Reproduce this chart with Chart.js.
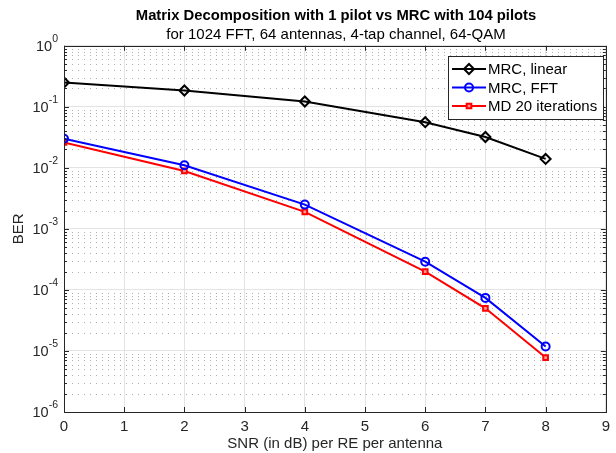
<!DOCTYPE html>
<html>
<head>
<meta charset="utf-8">
<script src="https://cdn.jsdelivr.net/npm/chart.js@4.4.1/dist/chart.umd.min.js"></script>
<style>
  html, body { margin: 0; padding: 0; background: #fff; }
</style>
</head>
<body>
<canvas id="berChart" width="616" height="453"></canvas>
<script>
// Data
const snrDb = [0, 2, 4, 6, 7, 8];
const berMrcLinear = [0.25, 0.185, 0.122, 0.056, 0.032, 0.014];
const berMrcFft = [0.030, 0.011, 0.0025, 0.00029, 0.000074, 0.0000118];
const berMd20 = [0.026, 0.0089, 0.0019, 0.0002, 0.00005, 0.0000078];
const seriesLabels = ['MRC, linear', 'MRC, FFT', 'MD 20 iterations'];
const yDecades = [-6, -5, -4, -3, -2, -1, 0];

const FONT = '"Liberation Sans", Arial, Helvetica, sans-serif';
const AXIS_COLOR = '#262626';

function toPoints(ys) {
    return snrDb.map((x, i) => ({ x: x, y: ys[i] }));
}

// log ticks: decades (major) + 2..9 (minor)
function buildLogTicks(scale) {
    const ticks = [];
    yDecades.forEach((e, i) => {
        ticks.push({ value: Math.pow(10, e), major: true, exp: e });
        if (i < yDecades.length - 1) {
            for (let m = 2; m <= 9; m++) {
                ticks.push({ value: parseFloat((m * Math.pow(10, e)).toPrecision(3)), major: false });
            }
        }
    });
    scale.ticks = ticks;
}

// dotted minor grid, inward tick marks, the axes box and 10^n labels
const matlabAxes = {
    id: 'matlabAxes',
    beforeDatasetsDraw(chart) {
        const { ctx, chartArea: a, scales } = chart;
        ctx.save();
        ctx.strokeStyle = '#b0b0b0';
        ctx.lineWidth = 1;
        ctx.setLineDash([1, 5]);
        scales.y.ticks.forEach(t => {
            if (t.major) return;
            const py = Math.round(scales.y.getPixelForValue(t.value)) + 0.5;
            ctx.beginPath();
            ctx.moveTo(a.left + 2, py);
            ctx.lineTo(a.right, py);
            ctx.stroke();
        });
        ctx.restore();
    },
    afterDatasetsDraw(chart) {
        const { ctx, chartArea: a, scales } = chart;
        ctx.save();
        ctx.strokeStyle = AXIS_COLOR;
        ctx.lineWidth = 1;
        ctx.beginPath();
        scales.x.ticks.forEach(t => {
            const px = Math.round(scales.x.getPixelForValue(t.value)) + 0.5;
            ctx.moveTo(px, a.bottom); ctx.lineTo(px, a.bottom - 5);
            ctx.moveTo(px, a.top); ctx.lineTo(px, a.top + 5);
        });
        scales.y.ticks.forEach(t => {
            const py = Math.round(scales.y.getPixelForValue(t.value)) + 0.5;
            const len = t.major ? 5 : 3;
            ctx.moveTo(a.left, py); ctx.lineTo(a.left + len, py);
            ctx.moveTo(a.right, py); ctx.lineTo(a.right - len, py);
        });
        ctx.stroke();
        ctx.strokeRect(Math.round(a.left) + 0.5, Math.round(a.top) + 0.5,
            Math.round(a.right - a.left), Math.round(a.bottom - a.top));

        // y tick labels with raised exponent
        ctx.fillStyle = AXIS_COLOR;
        ctx.textAlign = 'right';
        ctx.textBaseline = 'alphabetic';
        const xr = a.left - 6;
        scales.y.ticks.forEach(t => {
            if (!t.major) return;
            const py = scales.y.getPixelForValue(t.value);
            const ex = String(t.exp);
            ctx.font = '10.5px ' + FONT;
            const ew = ctx.measureText(ex).width;
            ctx.fillText(ex, xr, py - 4);
            ctx.font = '14.5px ' + FONT;
            ctx.fillText('10', xr - ew, py + 5);
        });
        ctx.restore();
    }
};

// legend box inside the axes, top right
const legendBox = {
    id: 'legendBox',
    afterDraw(chart) {
        const { ctx, chartArea: a } = chart;
        const sets = chart.data.datasets;
        ctx.save();
        ctx.font = '15px ' + FONT;
        const rowH = 18.5, sampleW = 34, pad = 4;
        const textW = Math.max(...sets.map(d => ctx.measureText(d.label).width));
        const w = Math.round(pad + sampleW + 2 + textW + 6);
        const h = Math.round(rowH * sets.length + 7);
        const x0 = Math.round(a.right - 3 - w), y0 = Math.round(a.top + 10);
        ctx.fillStyle = '#fff';
        ctx.fillRect(x0, y0, w, h);
        ctx.strokeStyle = AXIS_COLOR;
        ctx.lineWidth = 1;
        ctx.strokeRect(x0 + 0.5, y0 + 0.5, w, h);
        sets.forEach((d, i) => {
            const cy = y0 + 13 + i * rowH;
            const lx = x0 + pad;
            ctx.strokeStyle = d.borderColor;
            ctx.lineWidth = d.borderWidth;
            ctx.beginPath();
            ctx.moveTo(lx, cy);
            ctx.lineTo(lx + sampleW, cy);
            ctx.stroke();
            ctx.fillStyle = d.pointBackgroundColor;
            ctx.strokeStyle = d.borderColor;
            ctx.lineWidth = d.pointBorderWidth;
            Chart.helpers.drawPoint(ctx, {
                pointStyle: d.pointStyle, radius: d.pointRadius, rotation: 0, borderWidth: d.pointBorderWidth
            }, lx + sampleW / 2, cy);
            ctx.fillStyle = '#000';
            ctx.textBaseline = 'middle';
            ctx.textAlign = 'left';
            ctx.fillText(d.label, lx + sampleW + 2, cy + 1);
        });
        ctx.restore();
    }
};

// centre the title lines over the axes like the original
const shiftTitles = {
    id: 'shiftTitles',
    afterLayout(chart) {
        chart.boxes.forEach(b => {
            if (b.options && b.options.text !== undefined && b.position === 'top') {
                b.left = chart.chartArea.left;
            }
        });
    }
};

new Chart(document.getElementById('berChart'), {
    type: 'line',
    data: {
        datasets: [
            {
                label: seriesLabels[0],
                data: toPoints(berMrcLinear),
                borderColor: '#000000',
                borderWidth: 2,
                pointStyle: 'rectRot',
                pointRadius: 5,
                pointBorderWidth: 2,
                pointBackgroundColor: 'rgba(255,255,255,0)',
                pointBorderColor: '#000000'
            },
            {
                label: seriesLabels[1],
                data: toPoints(berMrcFft),
                borderColor: '#0000ff',
                borderWidth: 2,
                pointStyle: 'circle',
                pointRadius: 4,
                pointBorderWidth: 2,
                pointBackgroundColor: 'rgba(255,255,255,0)',
                pointBorderColor: '#0000ff'
            },
            {
                label: seriesLabels[2],
                data: toPoints(berMd20),
                borderColor: '#ff0000',
                borderWidth: 2,
                pointStyle: 'rect',
                pointRadius: 3.3,
                pointBorderWidth: 2,
                pointBackgroundColor: '#ff9a9a',
                pointBorderColor: '#ff0000'
            }
        ]
    },
    options: {
        responsive: false,
        animation: false,
        devicePixelRatio: 1,
        layout: { padding: { left: 0, right: 8, top: 0, bottom: 0 } },
        plugins: {
            legend: { display: false },
            tooltip: { enabled: false },
            title: {
                display: true,
                text: 'Matrix Decomposition with 1 pilot vs MRC with 104 pilots',
                color: '#000',
                font: { family: FONT, size: 14.8, weight: 'bold', lineHeight: 1.2 },
                padding: { top: 7, bottom: 1 }
            },
            subtitle: {
                display: true,
                text: 'for 1024 FFT, 64 antennas, 4-tap channel, 64-QAM',
                color: '#000',
                font: { family: FONT, size: 15, weight: 'normal', lineHeight: 1.2 },
                padding: { top: 0, bottom: 2 }
            }
        },
        scales: {
            x: {
                type: 'linear',
                min: 0,
                max: 9,
                ticks: { stepSize: 1, color: AXIS_COLOR, font: { family: FONT, size: 15 }, padding: 6 },
                grid: { color: '#e3e3e3', lineWidth: 1, drawTicks: false },
                border: { display: false },
                title: {
                    display: true,
                    text: 'SNR (in dB) per RE per antenna',
                    color: AXIS_COLOR,
                    font: { family: FONT, size: 15 },
                    padding: { top: 0, bottom: 0 }
                },
                afterFit(scale) { scale.height = 41; }
            },
            y: {
                type: 'logarithmic',
                min: 1e-6,
                max: 1,
                afterBuildTicks: buildLogTicks,
                ticks: {
                    autoSkip: false,
                    padding: 6,
                    callback: () => ''
                },
                grid: {
                    color: c => (c.tick && c.tick.major) ? '#e3e3e3' : 'rgba(0,0,0,0)',
                    lineWidth: 1,
                    drawTicks: false
                },
                border: { display: false },
                title: {
                    display: true,
                    text: 'BER',
                    color: AXIS_COLOR,
                    font: { family: FONT, size: 15 },
                    padding: { top: 10, bottom: 0 }
                },
                afterFit(scale) { scale.width = 64; }
            }
        }
    },
    plugins: [shiftTitles, matlabAxes, legendBox]
});
</script>
</body>
</html>
